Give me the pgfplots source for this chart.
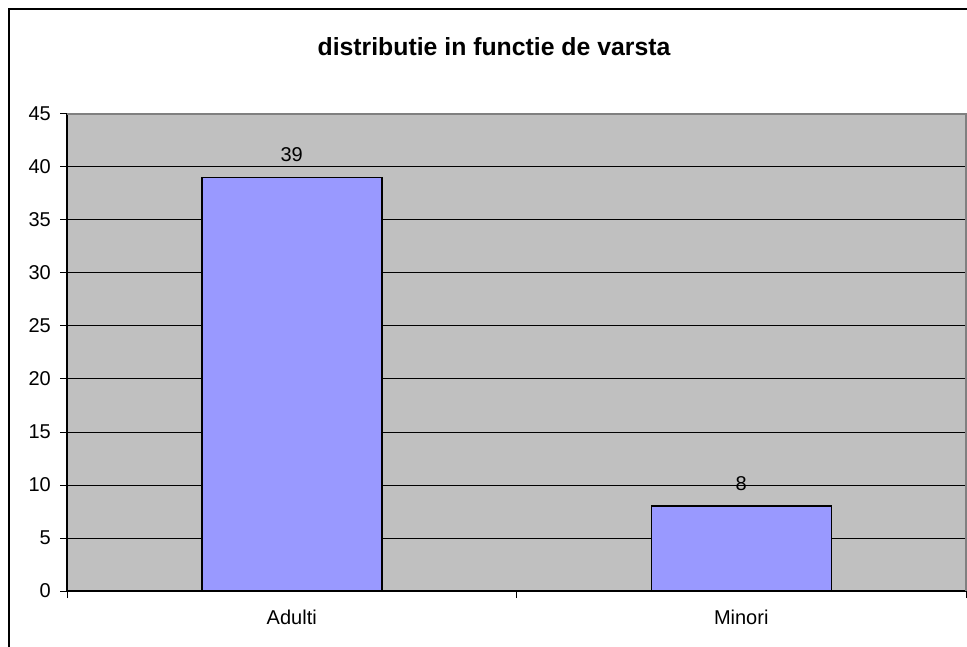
\documentclass[border=0pt]{standalone}
\usepackage{pgfplots}
\pgfplotsset{compat=1.18}
\usepackage{fontspec}
\setmainfont{Liberation Sans}
\definecolor{plotgray}{HTML}{C0C0C0}
\definecolor{barblue}{HTML}{9999FF}
\definecolor{bordergray}{HTML}{808080}
\begin{document}
\begin{tikzpicture}
\path[use as bounding box] (0pt,0pt) rectangle (967pt,646pt);
\draw[line width=2pt] (9pt,-2pt) -- (9pt,637pt) -- (969pt,637pt);
\node[font=\bfseries\fontsize{24.8}{30}\selectfont] at (494pt,599pt) {distributie in functie de varsta};
\begin{axis}[
  at={(67pt,55pt)}, anchor=south west,
  scale only axis, width=899pt, height=477pt,
  xmin=-0.5, xmax=1.5, ymin=0, ymax=45,
  ytick={0,5,...,45},
  xtick={-0.5,0.5,1.5}, xticklabels={},
  extra x ticks={0,1},
  extra x tick labels={Adulti,Minori},
  extra x tick style={major tick length=0pt, grid=none,
     tick label style={inner sep=0pt, yshift=-19pt}},
  axis x line*=bottom, axis y line*=left,
  axis line style={black, line width=1.5pt},
  axis background/.style={fill=plotgray},
  ymajorgrids,
  grid style={black, line width=1pt},
  tick style={black, line width=1pt},
  major tick length=7pt, tick align=outside,
  tick label style={font=\fontsize{20}{24}\selectfont},
  yticklabel style={inner sep=0pt, xshift=-9pt},
  /pgf/number format/assume math mode=true,
  ybar, bar width=180pt,
  nodes near coords,
  nodes near coords style={font=\fontsize{20}{24}\selectfont, inner sep=0pt, anchor=south, yshift=15pt},
  clip=false,
]
\addplot[fill=barblue, draw=black, line width=1.5pt] coordinates {(0,39) (1,8)};
\draw[bordergray, line width=1.2pt] (rel axis cs:0,1) -- (rel axis cs:1,1) -- (rel axis cs:1,0);
\end{axis}
\end{tikzpicture}
\end{document}
